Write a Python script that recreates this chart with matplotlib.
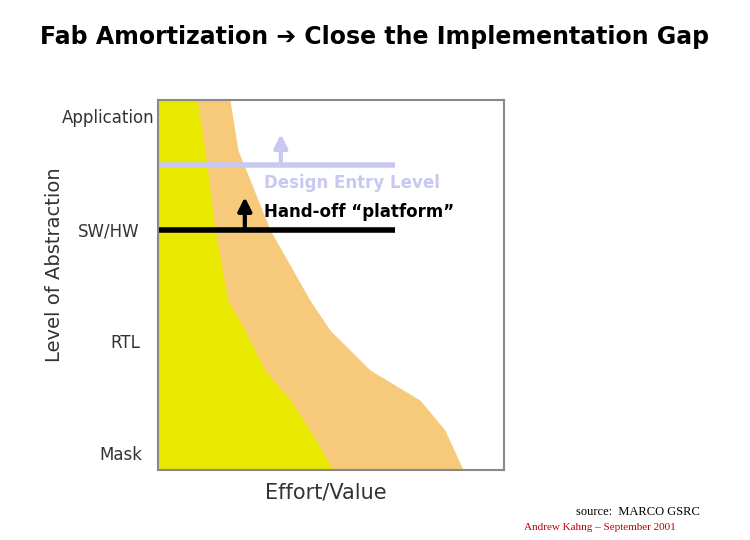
import matplotlib
matplotlib.use("Agg")
import matplotlib.pyplot as plt

levels = [100, 86.5, 64.9, 45.9, 37.8, 27.0, 18.9, 10.8, 0]
value_edge = [11.3, 13.6, 16.5, 20.2, 25.1, 30.9, 38.2, 43.9, 50.6]
effort_edge = [20.8, 23.1, 32.4, 43.9, 49.7, 61.3, 75.7, 82.9, 88.2]
design_entry_y = 82.4
handoff_y = 64.9

fig = plt.figure(figsize=(7.5, 5.4), dpi=100)
ax = fig.add_axes([158/750, 70/540, 346/750, 370/540])
ax.set_xlim(0, 100); ax.set_ylim(0, 100)
ax.fill_betweenx(levels, 0, effort_edge, color="#f7c97a", lw=0)
ax.fill_betweenx(levels, 0, value_edge, color="#e8e800", lw=0)
ax.set_xticks([]); ax.set_yticks([])
for s in ax.spines.values():
    s.set_color("#888888"); s.set_linewidth(1.5)

ax.plot([0, 68.5], [design_entry_y]*2, color="#c8c8f0", lw=4, solid_capstyle="butt", clip_on=False)
ax.annotate("", xy=(35.5, 91.5), xytext=(35.5, design_entry_y),
            arrowprops=dict(arrowstyle="-|>,head_width=0.4,head_length=0.8", color="#c8c8f0", lw=3))
ax.plot([0, 68.5], [handoff_y]*2, color="black", lw=4, solid_capstyle="butt", clip_on=False)
ax.annotate("", xy=(25.1, 74.5), xytext=(25.1, handoff_y),
            arrowprops=dict(arrowstyle="-|>,head_width=0.4,head_length=0.8", color="black", lw=3))
ax.text(30.6, 77.5, "Design Entry Level", color="#c8c8f0", fontsize=12, fontweight="bold", va="center")
ax.text(30.6, 69.7, "Hand-off \u201cplatform\u201d", color="black", fontsize=12, fontweight="bold", va="center")

fig.text(375/750, 1-37/540, "Fab Amortization \u2794 Close the Implementation Gap",
         ha="center", va="center", fontsize=17, fontweight="bold")
for t, x, y in [("Application", 62, 118), ("SW/HW", 78, 231), ("RTL", 110, 343), ("Mask", 99, 455)]:
    fig.text(x/750, 1-y/540, t, ha="left", va="center", fontsize=12, color="#333333")
fig.text(55/750, 1-265/540, "Level of Abstraction", rotation=90, ha="center", va="center",
         fontsize=14, color="#333333")
fig.text(326/750, 1-493/540, "Effort/Value", ha="center", va="center", fontsize=15, color="#333333")
fig.text(700/750, 1-512/540, "source:  MARCO GSRC", ha="right", va="center",
         fontsize=9, family="Liberation Serif")
fig.text(676/750, 1-527/540, "Andrew Kahng \u2013 September 2001", ha="right", va="center",
         fontsize=8, family="Liberation Serif", color="#c00000")
fig.savefig("out.png", dpi=100)
